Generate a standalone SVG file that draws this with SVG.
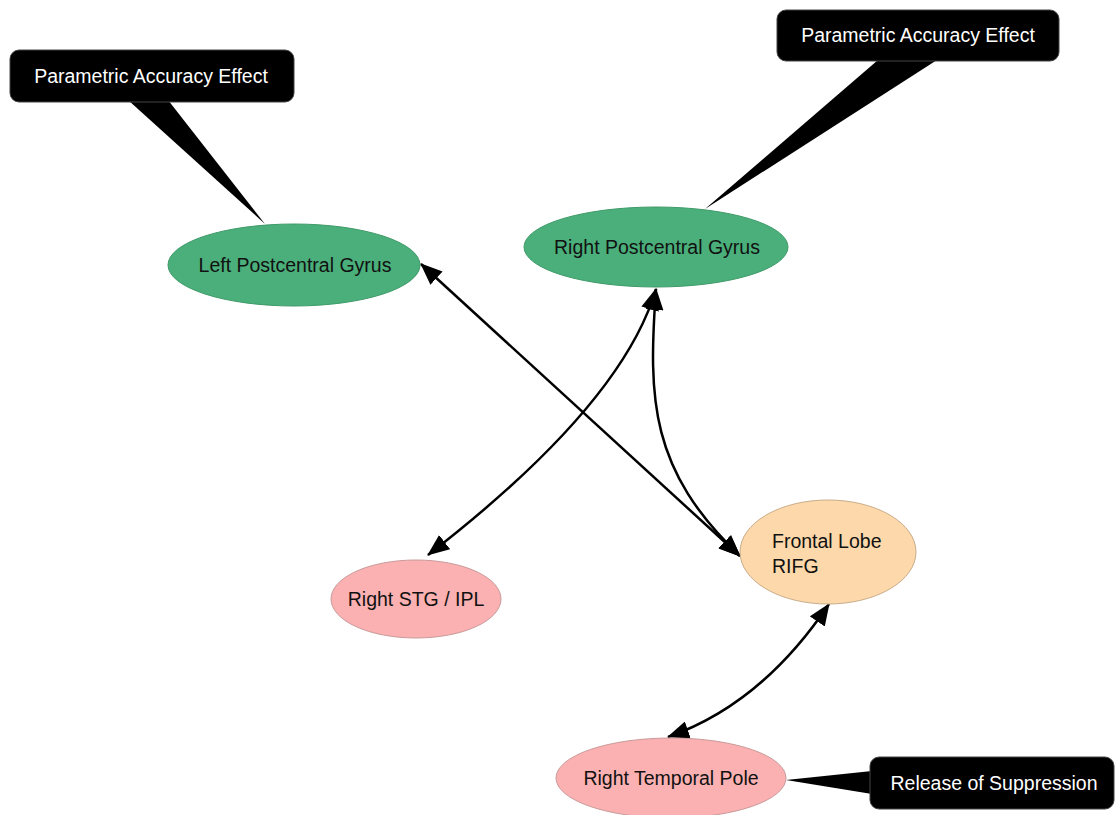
<svg xmlns="http://www.w3.org/2000/svg" width="1115" height="815" viewBox="0 0 1115 815">
<style>
text{font-family:"Liberation Sans",Arial,Helvetica,sans-serif;font-size:19.5px}
.lbl{fill:#111;text-anchor:middle}
.cl{fill:#fff;text-anchor:middle}
.green{fill:#4aaf7a;stroke:#3f9a69;stroke-width:1}
.pink{fill:#fbb1b1;stroke:#c99a9a;stroke-width:1}
.orange{fill:#fdd8aa;stroke:#c9ad8a;stroke-width:1}
.box{fill:#000;stroke:#444;stroke-width:1}
.edge{fill:none;stroke:#000;stroke-width:2.5;marker-start:url(#ah);marker-end:url(#ah)}
</style>
<defs>
<marker id="ah" viewBox="0 0 22 18" refX="21" refY="9" markerWidth="22" markerHeight="18" markerUnits="userSpaceOnUse" orient="auto-start-reverse">
<path d="M0,0 L22,9 L0,18 Z" fill="#000"/>
</marker>
</defs>
<rect width="1115" height="815" fill="#fff"/>
<g id="connectors">
<path class="edge" d="M421,264 L740,556"/>
<path class="edge" d="M656,289 Q622,405 428,555"/>
<path class="edge" d="M656,289 C648,400 650,470 740,556"/>
<path class="edge" d="M829,604 Q762,704 668,737"/>
</g>
<g id="callout-left">
<polygon points="128,100 168,100 265,224" fill="#000"/>
<rect class="box" x="10" y="50" width="284" height="52" rx="9"/>
<text class="cl" x="151" y="83">Parametric Accuracy Effect</text>
</g>
<g id="callout-right">
<polygon points="878,60 937,60 705,209" fill="#000"/>
<rect class="box" x="777" y="10" width="282" height="51" rx="9"/>
<text class="cl" x="918" y="42">Parametric Accuracy Effect</text>
</g>
<g id="callout-release">
<polygon points="872,771 872,794 786,780" fill="#000"/>
<rect class="box" x="870" y="757" width="244" height="52" rx="9"/>
<text class="cl" x="994" y="790">Release of Suppression</text>
</g>
<g id="left-postcentral">
<ellipse class="green" cx="294" cy="265" rx="126" ry="41"/>
<text class="lbl" x="295" y="272">Left Postcentral Gyrus</text>
</g>
<g id="right-postcentral">
<ellipse class="green" cx="656" cy="247" rx="132" ry="40"/>
<text class="lbl" x="657" y="254">Right Postcentral Gyrus</text>
</g>
<g id="frontal-lobe">
<ellipse class="orange" cx="828" cy="552" rx="88" ry="52"/>
<text x="772" y="548" fill="#111">Frontal Lobe</text>
<text x="772" y="573" fill="#111">RIFG</text>
</g>
<g id="right-stg">
<ellipse class="pink" cx="416" cy="599" rx="85" ry="39"/>
<text class="lbl" x="416" y="606">Right STG / IPL</text>
</g>
<g id="right-temporal-pole">
<ellipse class="pink" cx="671" cy="778" rx="115" ry="40"/>
<text class="lbl" x="671" y="785">Right Temporal Pole</text>
</g>
</svg>
